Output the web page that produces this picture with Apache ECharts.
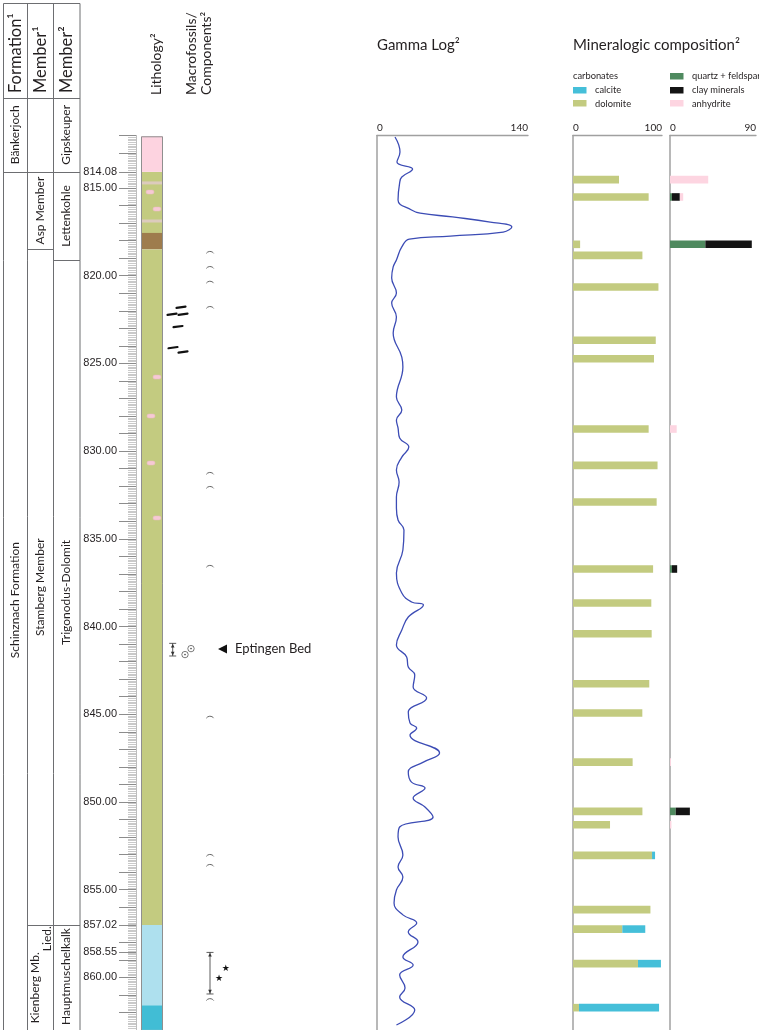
<!DOCTYPE html>
<html><head><meta charset="utf-8">
<script src="https://cdn.jsdelivr.net/npm/echarts@6/dist/echarts.min.js"></script>
<style>html,body{margin:0;padding:0;background:#fff}#c{width:759px;height:1030px}</style>
</head><body><div id="c"></div><script>
// ---------------- DATA ----------------
const DEPTH_MIN = 812, DEPTH_MAX = 863, TABLE_TOP_DEPTH = 809.87;
const DEPTH_LABELS = [814.08, 815, 820, 825, 830, 835, 840, 845, 850, 855, 857.02, 858.55, 860];
const DEPTH_TICKS = [812, 813, 814.08, 815, 816, 817, 818, 819, 820, 821, 822, 823, 824, 825, 826, 827, 828, 829, 830,
  831, 832, 833, 834, 835, 836, 837, 838, 839, 840, 841, 842, 843, 844, 845, 846, 847, 848, 849, 850, 851, 852, 853,
  854, 855, 856, 857.02, 858, 858.55, 859, 860, 861, 862];

// stratigraphic table: boundaries (depth tops) and names (label depth, name)
const FORMATION_TOPS = [814.08];
const MEMBER1_TOPS = [814.08, 818.5, 857.02];
const MEMBER2_TOPS = [814.08, 819.1, 857.02];
const FORMATION_NAMES = [[811.97, 'Bänkerjoch'], [838.5, 'Schinznach Formation']];
const MEMBER1_NAMES = [[816.29, 'Asp Member'], [837.76, 'Stamberg Member'], [860.6, 'Kienberg Mb.'], [857.8, 'Lied.']];
const MEMBER2_NAMES = [[811.97, 'Gipskeuper'], [816.59, 'Lettenkohle'], [838.06, 'Trigonodus-Dolomit'], [859.96, 'Hauptmuschelkalk']];

// lithology: [top, base, kind]
const LITHO = [[812.05, 814.08, 'anhydrite'], [814.08, 817.56, 'dolomite'], [817.56, 818.5, 'marl'],
  [818.5, 857.02, 'dolomite'], [857.02, 861.6, 'limestoneLight'], [861.6, 863, 'limestone']];
const LITHO_BANDS = [814.71, 816.88];
const NODULE_DEPTHS = [815.23, 816.2, 825.78, 828.0, 830.68, 833.81];

// macrofossils / components
const ARC_DEPTHS = [818.7, 819.56, 820.4, 821.84, 831.3, 832.1, 836.6, 845.2, 853.08, 853.65, 861.3];
const FRAGMENT_DEPTHS = [821.8, 822.2, 822.2, 822.9, 824.1, 824.35];
const EPTINGEN_RANGE = [840.96, 841.68];
const EPTINGEN_DEPTH = 841.28;
const OOID_DEPTHS = [841.6, 841.26];
const STAR_RANGE = [858.58, 860.95];
const STAR_DEPTHS = [859.5, 860.06];

// gamma log
const GAMMA_DEPTH = [812.09,812.95,813.52,813.92,814.37,814.71,815.68,816.25,816.43,816.65,816.94,817.22,817.51,817.74,
  817.91,818.36,819.10,819.50,820.13,820.99,821.56,822.35,823.27,824.64,825.21,826.92,827.66,828.23,828.68,829.25,
  829.77,830.34,831.08,831.76,832.62,833.24,833.93,834.50,835.64,836.95,838.09,838.60,838.77,839.46,840.20,841.05,
  841.74,842.31,842.77,843.45,844.08,844.88,845.50,845.79,846.19,847.21,847.73,848.30,848.87,849.21,849.78,850.29,
  850.86,851.43,852.00,853.03,853.71,854.28,855.02,855.76,856.44,856.90,857.41,857.98,858.84,859.30,859.87,860.61,
  861.12,861.86,862.72];
const GAMMA = [16.7,21.3,18.5,33,23,21,19.5,32,40,70,105,125,117,68,30,23,18,15,13.6,18,13.6,18,15,23,24,18,23,18,19.5,
  21,29.5,23,18,20.5,18,18,19.5,25,24,18,23,32,43,29,23,18,27.5,29,35,33.5,46,29,30.6,36.8,
  30.6,58,43,29,32,44.5,33.5,44.5,52,21,19.5,24,19.5,24,18,15.8,24,36.8,29,38,24,33.5,21,26,21,35,18];

// mineralogic composition (%)
const MIN_DEPTH = [814.52, 815.51, 818.21, 818.84, 820.64, 823.68, 824.73, 828.74, 830.81, 832.90, 836.72, 838.66,
  840.41, 843.26, 844.93, 847.73, 850.54, 851.30, 853.05, 856.14, 857.25, 859.22, 861.73];
const DOLOMITE = [51.7, 85, 8, 78, 96, 93, 91, 85, 95, 94, 90, 88, 88.4, 85.7, 77.9, 67, 78, 41.6, 88.8, 87, 55.4, 73, 6.7];
const CALCITE =  [0, 0, 0, 0, 0, 0, 0, 0, 0, 0, 0, 0, 0, 0, 0, 0, 0, 0, 3.4, 0, 25.8, 25.8, 90];
const QUARTZ =   [0, 2, 37, 0, 0, 0, 0, 0, 0, 0, 2, 0, 0, 0, 0, 0, 6, 0, 0, 0, 0, 0, 0];
const CLAY =     [0, 8.3, 48.6, 0, 0, 0, 0, 0, 0, 0, 5.5, 0, 0, 0, 0, 0, 14.8, 0, 0, 0, 0, 0, 0];
const ANHYDRITE =[40, 3.5, 0, 0, 0, 0, 0, 7, 0, 0, 0, 0, 0, 0, 0, 1, 0, 1.5, 0, 0, 0, 0, 0];

// ---------------- STYLE / LAYOUT ----------------
const TXT = '#231f20', LINE = '#6d6e71', AX = '#a0a0a0';
const C = {calcite:'#45bfd9', dolomite:'#c3cb80', quartz:'#4f8a5f', clay:'#141414', anhydrite:'#fdd5e1'};
const LITHO_COLORS = {anhydrite:'#fdd3e0', dolomite:'#c3cb80', marl:'#9e7c4d', limestoneLight:'#aee0ee', limestone:'#41bdd5'};
const TOP = 135.4, PXM = 17.54, H = (DEPTH_MAX - DEPTH_MIN) * PXM;
const COLS = [[3, 27], [27, 53], [53, 80]];
const LITHO_X = [141, 163];
const NODULE_X = [150, 157, 157, 151, 151, 157];
const FRAGMENT_X = [181, 172, 183, 178, 173, 183];
const OOID_X = [185, 191];
const STAR_X = [225.7, 219];
const NAME_X = {'Kienberg Mb.': 35, 'Lied.': 47};
const F = 'Lato, "Open Sans", sans-serif';

function customSeries(xi, yi, items, render) {
  return {type:'custom', coordinateSystem:'cartesian2d', xAxisIndex:xi, yAxisIndex:yi, clip:false, silent:true,
    animation:false, data: items.map(it => [0, Array.isArray(it) ? it[0] : it]),
    renderItem: (params, api) => render(items[params.dataIndex], api, params.dataIndex)};
}
function bracket(x, y1, y2) {
  const s = {stroke:'#333', lineWidth:0.8, fill:null};
  return [
    {type:'line', shape:{x1:x, y1:y1, x2:x, y2:y2}, style:s},
    {type:'line', shape:{x1:x-3.5, y1:y1, x2:x+3.5, y2:y1}, style:s},
    {type:'line', shape:{x1:x-3.5, y1:y2, x2:x+3.5, y2:y2}, style:s},
    {type:'polygon', shape:{points:[[x, y1+0.6], [x-1.8, y1+4.2], [x+1.8, y1+4.2]]}, style:{fill:'#333'}},
    {type:'polygon', shape:{points:[[x, y2-0.6], [x-1.8, y2-4.2], [x+1.8, y2-4.2]]}, style:{fill:'#333'}}
  ];
}

const tableLines = [];
FORMATION_TOPS.forEach(d => tableLines.push([d, 0]));
MEMBER1_TOPS.forEach(d => tableLines.push([d, 1]));
MEMBER2_TOPS.forEach(d => tableLines.push([d, 2]));
const tableNames = [];
FORMATION_NAMES.forEach(n => tableNames.push([n[0], 0, n[1]]));
MEMBER1_NAMES.forEach(n => tableNames.push([n[0], 1, n[1]]));
MEMBER2_NAMES.forEach(n => tableNames.push([n[0], 2, n[1]]));

const series = [
  // table boundaries
  customSeries(0, 0, tableLines, (t, api) => {
    const y = Math.round(api.coord([0, t[0]])[1]) + 0.5;
    return {type:'line', shape:{x1:COLS[t[1]][0], y1:y, x2:COLS[t[1]][1], y2:y}, style:{stroke:LINE, lineWidth:1}};
  }),
  // table names
  customSeries(0, 0, tableNames, (t, api) => {
    const y = api.coord([0, t[0]])[1];
    const x = NAME_X[t[2]] !== undefined ? NAME_X[t[2]] : (COLS[t[1]][0] + COLS[t[1]][1]) / 2;
    return {type:'text', x:x, y:y, rotation:Math.PI/2,
      style:{text:t[2], font:'12px ' + F, fill:TXT, align:'center', verticalAlign:'middle'}};
  }),
  // lithology layers
  customSeries(2, 3, LITHO, (l, api) => {
    const p1 = api.coord([LITHO_X[0], l[0]]), p2 = api.coord([LITHO_X[1], l[1]]);
    return {type:'rect', shape:{x:p1[0], y:p1[1], width:p2[0]-p1[0], height:p2[1]-p1[1]},
      style:{fill:LITHO_COLORS[l[2]]}};
  }),
  customSeries(2, 3, LITHO_BANDS, (d, api) => {
    const p = api.coord([LITHO_X[0], d]);
    return {type:'rect', shape:{x:p[0], y:p[1]-1.5, width:LITHO_X[1]-LITHO_X[0], height:3}, style:{fill:'#dccbbd'}};
  }),
  customSeries(2, 3, NODULE_DEPTHS, (d, api, i) => {
    const p = api.coord([NODULE_X[i], d]);
    return {type:'rect', shape:{x:p[0]-4, y:p[1]-2, width:8, height:4, r:2}, style:{fill:'#f6cad4', stroke:'#ebbac4', lineWidth:0.5}};
  }),
  customSeries(2, 3, [[LITHO[0][0], LITHO[LITHO.length-1][1]]], (l, api) => {
    const p1 = api.coord([LITHO_X[0], l[0]]), p2 = api.coord([LITHO_X[1], l[1]]);
    return {type:'rect', shape:{x:p1[0]+0.5, y:p1[1]+0.5, width:p2[0]-p1[0]-1, height:p2[1]-p1[1]},
      style:{fill:null, stroke:'#8f8f8f', lineWidth:1}};
  }),
  // macrofossil arcs
  customSeries(2, 3, ARC_DEPTHS, (d, api) => {
    const p = api.coord([210, d]);
    return {type:'arc', shape:{cx:p[0], cy:p[1]+3, r:4.5, startAngle:Math.PI*1.2, endAngle:Math.PI*1.8, clockwise:true},
      style:{stroke:'#555', lineWidth:0.9, fill:null}};
  }),
  // fragments
  customSeries(2, 3, FRAGMENT_DEPTHS, (d, api, i) => {
    const p = api.coord([FRAGMENT_X[i], d]);
    return {type:'line', shape:{x1:p[0]-4.5, y1:p[1]+0.6, x2:p[0]+4.5, y2:p[1]-0.6}, style:{stroke:'#111', lineWidth:2.2, lineCap:'round'}};
  }),
  // Eptingen Bed
  customSeries(2, 3, [EPTINGEN_DEPTH], (d, api) => {
    const y = api.coord([0, d])[1];
    const y1 = api.coord([0, EPTINGEN_RANGE[0]])[1], y2 = api.coord([0, EPTINGEN_RANGE[1]])[1];
    const ch = bracket(172.7, y1, y2);
    OOID_DEPTHS.forEach((od, i) => {
      const oy = api.coord([0, od])[1];
      ch.push({type:'circle', shape:{cx:OOID_X[i], cy:oy, r:3.2}, style:{stroke:'#444', lineWidth:0.7, fill:null}});
      ch.push({type:'circle', shape:{cx:OOID_X[i], cy:oy, r:0.8}, style:{fill:'#444'}});
    });
    ch.push({type:'polygon', shape:{points:[[218, y], [227, y-4.5], [227, y+4.5]]}, style:{fill:'#111'}});
    ch.push({type:'text', x:235, y:y, style:{text:'Eptingen Bed', font:'13px ' + F, fill:TXT, verticalAlign:'middle'}});
    return {type:'group', children:ch};
  }),
  // stars
  customSeries(2, 3, [STAR_RANGE[0]], (d, api) => {
    const y1 = api.coord([0, STAR_RANGE[0]])[1], y2 = api.coord([0, STAR_RANGE[1]])[1];
    const ch = bracket(210, y1, y2);
    STAR_DEPTHS.forEach((sd, i) => {
      const sy = api.coord([0, sd])[1];
      ch.push({type:'text', x:STAR_X[i], y:sy, style:{text:'★', font:'9px "DejaVu Sans"', fill:'#111', align:'center', verticalAlign:'middle'}});
    });
    return {type:'group', children:ch};
  }),
  // gamma log
  {type:'line', xAxisIndex:3, yAxisIndex:4, data: GAMMA.map((g, i) => [g, GAMMA_DEPTH[i]]), smooth:0.45,
    symbol:'none', silent:true, animation:false, lineStyle:{color:'#3c4cb5', width:1.3}},
  // carbonates
  customSeries(4, 5, MIN_DEPTH, (d, api, i) => {
    const segs = [[DOLOMITE[i], C.dolomite], [CALCITE[i], C.calcite]];
    let cum = 0; const ch = [];
    segs.forEach(s => {
      if (s[0] > 0) {
        const a = api.coord([cum, d]), b = api.coord([cum + s[0], d]);
        ch.push({type:'rect', shape:{x:a[0], y:a[1]-3.8, width:b[0]-a[0], height:7.6}, style:{fill:s[1]}});
        cum += s[0];
      }
    });
    return {type:'group', children:ch};
  }),
  // others
  customSeries(5, 6, MIN_DEPTH, (d, api, i) => {
    const segs = [[QUARTZ[i], C.quartz], [CLAY[i], C.clay], [ANHYDRITE[i], C.anhydrite]];
    let cum = 0; const ch = [];
    segs.forEach(s => {
      if (s[0] > 0) {
        const a = api.coord([cum, d]), b = api.coord([cum + s[0], d]);
        ch.push({type:'rect', shape:{x:a[0], y:a[1]-3.8, width:b[0]-a[0], height:7.6}, style:{fill:s[1]}});
        cum += s[0];
      }
    });
    return {type:'group', children:ch};
  })
];

const hiddenX = (g, max) => ({gridIndex:g, type:'value', min:0, max:max, show:false});
const hiddenY = (g, min) => ({gridIndex:g, type:'value', inverse:true, min:min, max:DEPTH_MAX, show:false});
const panelX = (g, max) => ({gridIndex:g, type:'value', position:'top', min:0, max:max, interval:max,
  axisLine:{show:true, onZero:false, lineStyle:{color:AX, width:1.3}}, axisTick:{show:false}, splitLine:{show:false},
  axisLabel:{show:true, margin:3, fontSize:10, fontFamily:F, color:TXT, alignMinLabel:'left', alignMaxLabel:'right'}});
const panelY = g => ({gridIndex:g, type:'value', inverse:true, min:DEPTH_MIN, max:DEPTH_MAX,
  axisLine:{show:true, onZero:false, lineStyle:{color:AX, width:1.5}}, axisTick:{show:false},
  axisLabel:{show:false}, splitLine:{show:false}});

const txt = (text, x, y, size, extra) => Object.assign({type:'text', x:x, y:y,
  style:Object.assign({text:text, font:size + 'px ' + F, fill:TXT, verticalAlign:'middle'}, extra || {})});
const rot = (text, x, y, size) => ({type:'text', x:x, y:y, rotation:Math.PI/2,
  style:{text:text, font:size + 'px ' + F, fill:TXT, align:'left', verticalAlign:'middle', lineHeight:15}});
const sw = (x, y, color) => ({type:'rect', shape:{x:x, y:y, width:13.5, height:6.5}, style:{fill:color}});

const option = {
  animation:false,
  grid:[
    {left:0, top:98, width:759, height:(DEPTH_MAX - TABLE_TOP_DEPTH) * PXM},
    {left:136, top:TOP, width:4, height:H},
    {left:0, top:TOP, width:759, height:H},
    {left:377, top:TOP, width:151, height:H},
    {left:573, top:TOP, width:89, height:H},
    {left:670, top:TOP, width:87, height:H}
  ],
  xAxis:[hiddenX(0, 759), hiddenX(1, 1), hiddenX(2, 759), panelX(3, 140), panelX(4, 100), panelX(5, 90)],
  yAxis:[
    hiddenY(0, TABLE_TOP_DEPTH),
    {gridIndex:1, type:'value', inverse:true, min:DEPTH_MIN, max:DEPTH_MAX, interval:0.1, position:'left',
      axisLine:{show:true, onZero:false, lineStyle:{color:'#bdbdbd'}}, axisTick:{show:true, length:8, lineStyle:{color:'#c9c9c9', width:1}},
      axisLabel:{show:false}, splitLine:{show:false}},
    {gridIndex:1, type:'value', inverse:true, min:DEPTH_MIN, max:DEPTH_MAX, position:'left',
      axisLine:{show:false, onZero:false}, axisTick:{show:true, customValues:DEPTH_TICKS, length:17, lineStyle:{color:'#8c8c8c', width:1}},
      axisLabel:{show:true, customValues:DEPTH_LABELS, formatter:v => Number(v).toFixed(2), margin:19,
        fontSize:11, fontFamily:'"Liberation Sans", Arial, sans-serif', color:TXT}, splitLine:{show:false}},
    hiddenY(2, DEPTH_MIN), panelY(3), panelY(4), panelY(5)
  ],
  graphic:[
    {type:'rect', shape:{x:3.5, y:3.5, width:76.5, height:1040}, style:{fill:null, stroke:LINE, lineWidth:1}},
    {type:'line', shape:{x1:27.5, y1:3.5, x2:27.5, y2:1030}, style:{stroke:LINE, lineWidth:1}},
    {type:'line', shape:{x1:53.5, y1:3.5, x2:53.5, y2:1030}, style:{stroke:LINE, lineWidth:1}},
    {type:'line', shape:{x1:3.5, y1:98.5, x2:80, y2:98.5}, style:{stroke:LINE, lineWidth:1}},
    rot('Formation¹', 15.5, 93, 16.5), rot('Member¹', 40.5, 93, 16.5), rot('Member²', 67, 93, 16.5),
    rot('Lithology²', 156, 95, 14), rot('Macrofossils/\nComponents²', 198.5, 95, 14),
    txt('Gamma Log²', 377, 45, 15), txt('Mineralogic composition²', 573, 45, 15),
    txt('carbonates', 573, 76, 9.3),
    sw(573, 87, C.calcite), txt('calcite', 595, 90, 9.3),
    sw(573, 100, C.dolomite), txt('dolomite', 595, 103.5, 9.3),
    sw(670, 73, C.quartz), txt('quartz + feldspar', 692, 76, 9.3),
    sw(670, 87, C.clay), txt('clay minerals', 692, 90, 9.3),
    sw(670, 100, C.anhydrite), txt('anhydrite', 692, 103.5, 9.3)
  ],
  series:series
};
const chart = echarts.init(document.getElementById('c'));
chart.setOption(option);
</script></body></html>
